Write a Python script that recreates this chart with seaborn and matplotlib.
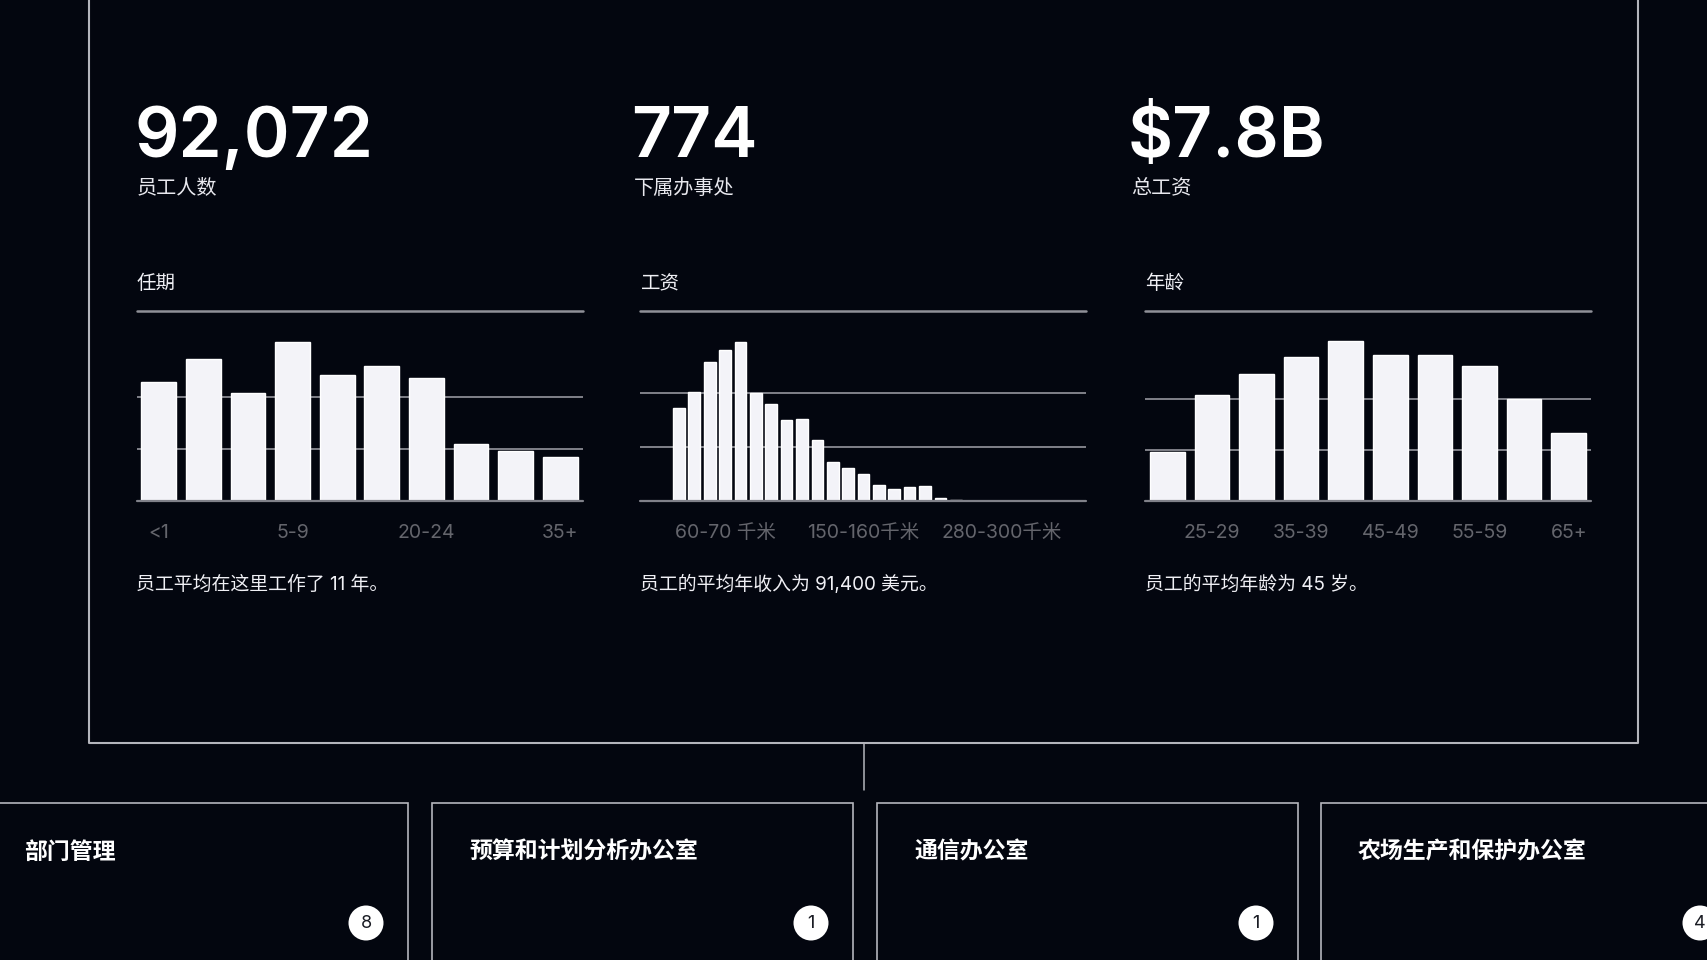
import numpy as np
import pandas as pd
import matplotlib
matplotlib.use("Agg")
import matplotlib.pyplot as plt
from matplotlib.patches import Rectangle, Ellipse
from matplotlib.lines import Line2D
import seaborn as sns

# ---------------- data ----------------
kpi_values = ["92,072", "774", "$7.8B"]
kpi_labels = ["员工人数", "下属办事处", "总工资"]

tenure_cats = ["<1", "1-2", "3-4", "5-9", "10-14", "15-19", "20-24", "25-29", "30-34", "35+"]
tenure_vals = [10.3, 12.3, 9.4, 13.8, 10.9, 11.7, 10.7, 4.9, 4.3, 3.8]   # thousand employees
tenure_ticks = ["<1", "5-9", "20-24", "35+"]

salary_cats = ["10-20千米", "20-30千米", "30-40千米", "40-50千米", "50-60千米", "60-70 千米",
               "70-80千米", "80-90千米", "90-100千米", "100-110千米", "110-120千米",
               "120-130千米", "130-140千米", "140-150千米", "150-160千米", "160-170千米",
               "170-180千米", "180-190千米", "190-200千米", "200-220千米", "220-240千米",
               "240-260千米", "260-280千米", "280-300千米", "300-320千米", "320-340千米",
               "340-360千米", "360-380千米", "380-400千米"]
salary_vals = [0, 0, 6.9, 8.1, 10.3, 11.2, 11.8, 8.0, 7.2, 6.0, 6.1, 4.5, 2.9, 2.4, 2.0,
               1.2, 0.9, 1.0, 1.1, 0.22, 0.08, 0, 0, 0, 0, 0, 0, 0, 0]
salary_ticks = ["60-70 千米", "150-160千米", "280-300千米"]

age_cats = ["<25", "25-29", "30-34", "35-39", "40-44", "45-49", "50-54", "55-59", "60-64", "65+"]
age_vals = [3.8, 8.3, 9.9, 11.3, 12.5, 11.4, 11.4, 10.6, 8.0, 5.3]
age_ticks = ["25-29", "35-39", "45-49", "55-59", "65+"]

panel_titles = ["任期", "工资", "年龄"]
panel_notes = ["员工平均在这里工作了 11 年。", "员工的平均年收入为 91,400 美元。", "员工的平均年龄为 45 岁。"]

office_names = ["部门管理", "预算和计划分析办公室", "通信办公室", "农场生产和保护办公室"]
office_counts = ["8", "1", "1", "4"]

# ---------------- style ----------------
BG = "#03060f"
LINE = "#b4b5bc"
GRID = "#808189"
TICK = "#64656c"
BAR = "#f3f3f8"
W, H = 1708, 960

sns.set_theme(style="dark")
plt.rcParams["font.family"] = ["Inter", "Noto Sans CJK SC", "DejaVu Sans"]
FAM = ["Inter", "Noto Sans CJK SC", "DejaVu Sans"]
CJK = ["Noto Sans CJK SC", "DejaVu Sans"]

fig = plt.figure(figsize=(W / 100, H / 100), dpi=100, facecolor=BG)


def fx(x):
    return x / W


def fy(y):
    return 1 - y / H


def ftext(x, y, s, **kw):
    fig.text(fx(x), fy(y), s, **kw)


# main box (top edge off canvas)
fig.add_artist(Line2D([fx(89), fx(89), fx(1638), fx(1638)], [fy(-20), fy(742.5), fy(742.5), fy(-20)],
                      color=LINE, lw=1.5, transform=fig.transFigure))
# connector
fig.add_artist(Line2D([fx(864), fx(864)], [fy(742.5), fy(790)], color=LINE, lw=1.1,
                      transform=fig.transFigure))

# KPIs
kpi_x = [137, 634, 1131]
for x, v, l in zip(kpi_x, kpi_values, kpi_labels):
    ftext(x - 3, 157, v, fontsize=50, fontweight="semibold", color="white", family=FAM,
          va="baseline", ha="left")
    ftext(x, 188, l, fontsize=14.5, color="#e8e8ee", family=CJK, va="center", ha="left")

# panels
panels = [
    (tenure_cats, tenure_vals, tenure_ticks, 4.5, 3.675, 0.78, 136.5),
    (salary_cats, salary_vals, salary_ticks, 4.0, 3.538, 0.76, 640.5),
    (age_cats, age_vals, age_ticks, 4.0, 3.725, 0.78, 1145),
]
top_px, base_px, pw = 310.7, 500.7, 446
for i, (cats, vals, ticks, step, nunits, bw, left) in enumerate(panels):
    ax = fig.add_axes([fx(left), fy(base_px), fx(pw), (base_px - top_px) / H])
    ax.set_facecolor(BG)
    df = pd.DataFrame({"cat": cats, "val": vals})
    for g in (step, 2 * step):
        ax.axhline(g, color=GRID, lw=1.4, zorder=0)
    sns.barplot(data=df, x="cat", y="val", order=cats, color=BAR, saturation=1,
                width=bw, ax=ax, zorder=2)
    ax.axhline(0, color=GRID, lw=1.6, zorder=3, clip_on=False)
    ax.axhline(step * nunits, color="#8f9098", lw=1.8, zorder=3, clip_on=False)
    ax.set_ylim(0, step * nunits)
    ax.set_xlim(-0.5, len(cats) - 0.5)
    ax.set_xticks([cats.index(t) for t in ticks])
    ax.set_xticklabels(ticks, family=FAM, fontsize=14, color=TICK)
    ax.tick_params(axis="x", length=0, pad=17)
    ax.set_yticks([])
    ax.set_xlabel("")
    ax.set_ylabel("")
    ax.grid(False)
    for s in ax.spines.values():
        s.set_visible(False)
    ftext(left, 283.5, panel_titles[i], fontsize=14, color="#f0f0f5", family=CJK,
          va="center", ha="left")
    ftext(left, 584.5, panel_notes[i], fontsize=13.6, color="#f0f0f5", family=FAM,
          va="center", ha="left")

# office boxes
box_left = [-13, 432, 877, 1321]
bw_px = 421
for x0, name, cnt in zip(box_left, office_names, office_counts):
    fig.add_artist(Rectangle((fx(x0), fy(1000)), fx(bw_px), (1000 - 802.5) / H, fill=False,
                             ec=LINE, lw=1.2, transform=fig.transFigure))
    ftext(x0 + 37, 852, name, fontsize=16.5, fontweight="bold", color="white", family=CJK,
          va="center", ha="left")
    cx, cy = x0 + bw_px - 42, 923
    fig.add_artist(Ellipse((fx(cx), fy(cy)), 35 / W, 35 / H, transform=fig.transFigure,
                           fc="white", ec="none"))
    ftext(cx, cy + 1, cnt, fontsize=13, color="#1a1c24", family=FAM, va="center",
          ha="center", zorder=5)

fig.savefig("out.png", dpi=100, facecolor=BG)
